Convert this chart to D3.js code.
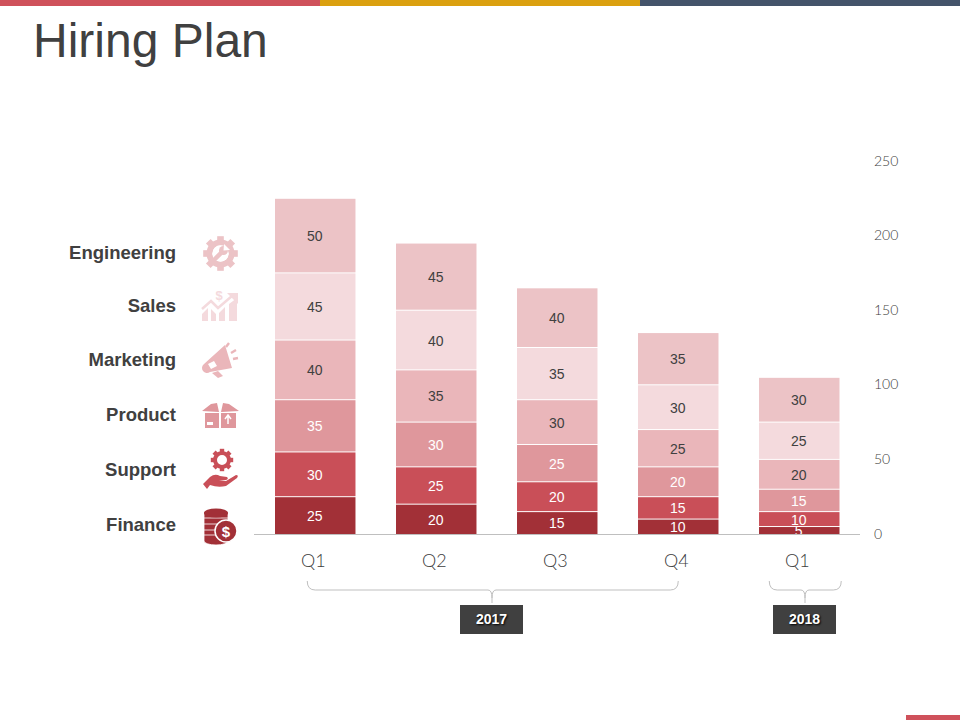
<!DOCTYPE html>
<html lang="en">
<head>
<meta charset="utf-8">
<title>Hiring Plan</title>
<script src="https://d3js.org/d3.v7.min.js"></script>
<style>
  html, body { margin: 0; padding: 0; background: #fff; }
  svg { display: block; }
  .title { font-family: "Liberation Sans", sans-serif; font-size: 48px; fill: #404040; }
  .cat { font-family: "Liberation Sans", sans-serif; font-size: 18.5px; font-weight: bold; fill: #404040; text-anchor: end; }
  .val { font-family: "Liberation Sans", sans-serif; font-size: 14px; text-anchor: middle; }
  .axis text { font-family: Lato, sans-serif; fill: #404040; font-weight: 300; }
  .year { font-family: "Liberation Sans", sans-serif; font-size: 14px; font-weight: bold; fill: #fff; text-anchor: middle; }
</style>
</head>
<body>
<svg width="960" height="720"></svg>
<script>
// data, bottom of the stack first
const quarters = ["2017 Q1", "2017 Q2", "2017 Q3", "2017 Q4", "2018 Q1"];
const quarterLabels = ["Q1", "Q2", "Q3", "Q4", "Q1"];
const categories = ["Finance", "Support", "Product", "Marketing", "Sales", "Engineering"];
const finance = [25, 20, 15, 10, 5];
const support = [30, 25, 20, 15, 10];
const product = [35, 30, 25, 20, 15];
const marketing = [40, 35, 30, 25, 20];
const sales = [45, 40, 35, 30, 25];
const engineering = [50, 45, 40, 35, 30];
const yTicks = [0, 50, 100, 150, 200, 250];

const colors = ["#A23037", "#C94F58", "#DF979C", "#EAB6BA", "#F4DADD", "#ECC3C6"];
const textColors = ["#fff", "#fff", "#fff", "#404040", "#404040", "#404040"];

const svg = d3.select("svg");

// top strip and corner
svg.append("rect").attr("width", 320).attr("height", 6).attr("fill", "#CF515B");
svg.append("rect").attr("x", 320).attr("width", 320).attr("height", 6).attr("fill", "#DBA00F");
svg.append("rect").attr("x", 640).attr("width", 320).attr("height", 6).attr("fill", "#44546A");
svg.append("rect").attr("x", 906).attr("y", 715).attr("width", 54).attr("height", 5).attr("fill", "#CF515B");

svg.append("text").attr("class", "title").attr("x", 33).attr("y", 57).text("Hiring Plan");

const x = d3.scaleBand().domain(quarters).range([254, 860.5]).paddingInner(0.335).paddingOuter(0.1736);
const y = d3.scaleLinear().domain([0, 250]).range([534, 161]);

const table = quarters.map((q, i) => ({
  quarter: q,
  Finance: finance[i], Support: support[i], Product: product[i],
  Marketing: marketing[i], Sales: sales[i], Engineering: engineering[i]
}));
const stacked = d3.stack().keys(categories)(table);

// 1px of white shows between the segments
const layers = svg.selectAll(".layer").data(stacked).enter().append("g").attr("class", "layer");
layers.selectAll("rect")
  .data(d => d)
  .enter().append("rect")
  .attr("x", d => x(d.data.quarter))
  .attr("y", d => y(d[1]) + 0.5)
  .attr("width", x.bandwidth())
  .attr("height", d => y(d[0]) - y(d[1]) - 1 + (d[0] === 0 ? 0.5 : 0))
  .attr("fill", function () { return colors[categories.indexOf(d3.select(this.parentNode).datum().key)]; });

// labels get cut off at the baseline, the 5 in the last bar shows that
svg.append("clipPath").attr("id", "plotClip").append("rect")
  .attr("x", 254).attr("y", 100).attr("width", 606).attr("height", y(0) - 100);

const labels = svg.append("g").attr("clip-path", "url(#plotClip)");
stacked.forEach((s, k) => {
  labels.selectAll(".l" + k)
    .data(s)
    .enter().append("text")
    .attr("class", "val l" + k)
    .attr("x", d => x(d.data.quarter) + x.bandwidth() / 2 - 0.5)
    .attr("y", d => (y(d[0]) + y(d[1])) / 2 + 5.5)
    .attr("fill", textColors[k])
    .text(d => d[1] - d[0]);
});

// axes
const yAxis = svg.append("g").attr("class", "axis").attr("transform", "translate(860,0)")
  .call(d3.axisRight(y).tickValues(yTicks).tickSize(0).tickPadding(14));
yAxis.select(".domain").remove();
yAxis.selectAll("text").style("font-size", "14px").attr("dy", "0.29em");

const xAxis = svg.append("g").attr("class", "axis").attr("transform", "translate(0," + y(0) + ")")
  .call(d3.axisBottom(x).tickSize(0).tickPadding(20).tickFormat((d, i) => quarterLabels[i]));
xAxis.select(".domain").attr("stroke", "#BFBFBF").attr("d", "M254,0.5H860");
xAxis.selectAll("text").style("font-size", "18px").attr("dx", -2);

// year braces
function brace(x0, x1, xm, label) {
  const top = 581, bar = 590, tip = 603;
  svg.append("path")
    .attr("fill", "none").attr("stroke", "#BFBFBF").attr("stroke-width", 1)
    .attr("d", `M${x0},${top}Q${x0},${bar} ${x0 + 8},${bar}H${xm - 4}Q${xm},${bar} ${xm},${tip - 5}V${tip}` +
               `M${xm},${tip - 5}Q${xm},${bar} ${xm + 4},${bar}H${x1 - 8}Q${x1},${bar} ${x1},${top}`);
  svg.append("rect").attr("x", xm - 32).attr("y", 605).attr("width", 63).attr("height", 29).attr("fill", "#404040");
  svg.append("text").attr("class", "year").attr("x", xm - 0.5).attr("y", 624)
    .style("text-shadow", "1px 1px 2px #000").text(label);
}
const mid = d => x(d) + x.bandwidth() / 2;
brace(mid("2017 Q1") - 8, mid("2017 Q4"), 492, "2017");
brace(mid("2018 Q1") - 30, mid("2018 Q1") + 42, 805, "2018");

// left legend: names and icons
const legendY = { Engineering: 253, Sales: 306, Marketing: 360, Product: 415, Support: 470, Finance: 525 };
categories.forEach(c => {
  svg.append("text").attr("class", "cat").attr("x", 176).attr("y", legendY[c] + 6).text(c);
});

function icon(name) {
  const k = categories.indexOf(name);
  return svg.append("g")
    .attr("transform", `translate(220,${legendY[name]})`)
    .attr("fill", colors[k]);
}

function gear(g, cx, cy, r, w, teeth, color) {
  g.append("circle").attr("cx", cx).attr("cy", cy).attr("r", r)
    .attr("fill", "none").attr("stroke", color).attr("stroke-width", w);
  d3.range(teeth).forEach(i => {
    g.append("rect").attr("x", cx - w * 0.55).attr("y", cy - r - w * 1.05)
      .attr("width", w * 1.1).attr("height", w)
      .attr("fill", color)
      .attr("transform", `rotate(${i * 360 / teeth},${cx},${cy})`);
  });
}

// engineering: gear and wrench
const eng = icon("Engineering");
gear(eng, 0.5, 0.5, 11, 6, 8, colors[5]);
eng.append("circle").attr("cx", 0.5).attr("cy", 0.5).attr("r", 8.2).attr("fill", "#fff");
eng.append("path").attr("d", "M-5,6L3,-2").attr("stroke", colors[5]).attr("stroke-width", 4.5).attr("stroke-linecap", "round");
eng.append("circle").attr("cx", 3.5).attr("cy", -2.5).attr("r", 4.5);
eng.append("path").attr("d", "M3.5,-2.5L4,-9L10,-3Z").attr("fill", "#fff");

// sales: bars, rising arrow, dollar
const sal = icon("Sales");
sal.append("path").attr("d", "M-18,15V8L-12,2V15ZM-9,15V3L-4,8V15ZM-1,15V7L5,1V15ZM9,15V-2L17,-8V15Z");
sal.append("path").attr("d", "M-18,3L-9,-5L-2,2L12,-10").attr("fill", "none").attr("stroke", colors[4]).attr("stroke-width", 2.5);
sal.append("path").attr("d", "M7,-13H18V-2Z");
sal.append("text").attr("x", -1).attr("y", -6).attr("text-anchor", "middle")
  .style("font", "bold 13px 'Liberation Sans'").text("$");

// marketing: megaphone
const mkt = icon("Marketing");
mkt.append("path").attr("d", "M-16,4L5,-15L12,8L-10,12A5,5 0 0 1 -16,4Z");
mkt.append("path").attr("d", "M-12,4L-6,1L-3,6L-9,9Z").attr("fill", "#fff");
mkt.append("path").attr("d", "M-8,13L-2,11L3,16L-2,18Z");
mkt.append("path").attr("d", "M6,-13L9,-17M11,-7L16,-10M13,-1L18,-2").attr("stroke", colors[3]).attr("stroke-width", 2.4).attr("fill", "none");

// product: open box
const prd = icon("Product");
prd.append("path").attr("d", "M-18,-4L-9,-11L-3,-12L-1,-3ZM1,-3L3,-12L9,-11L19,-4Z");
prd.append("path").attr("d", "M-15,-2H-1V13H-15ZM1,-2H16V13H1Z");
prd.append("path").attr("d", "M8,9V1M5,4L8,0L11,4").attr("stroke", "#fff").attr("stroke-width", 1.5).attr("fill", "none");
prd.append("rect").attr("x", -13).attr("y", 7).attr("width", 6).attr("height", 3).attr("fill", "#fff");

// support: hand under a gear
const sup = icon("Support");
gear(sup, 2, -10, 7, 4, 8, colors[1]);
sup.append("path").attr("d", "M-17,14L-10,7Q-5,3 0,6L7,7Q9,9 6,10L-1,10L6,11L16,5Q19,5 17,8L6,16Q-2,18 -10,15L-13,19Z");

// finance: coins with a dollar badge
const fin = icon("Finance");
[-10, -4, 2, 8, 13].forEach(cy => {
  fin.append("path").attr("d", `M-16,${cy - 3}V${cy + 3}A12,4 0 0 0 8,${cy + 3}V${cy - 3}Z`).attr("stroke", "#fff").attr("stroke-width", 0.8);
});
fin.append("ellipse").attr("cx", -4).attr("cy", -12).attr("rx", 12).attr("ry", 4.5);
fin.append("circle").attr("cx", 6).attr("cy", 6).attr("r", 11).attr("stroke", "#fff").attr("stroke-width", 1.5);
fin.append("text").attr("x", 6).attr("y", 11.5).attr("text-anchor", "middle").attr("fill", "#fff")
  .style("font", "bold 15px 'Liberation Sans'").text("$");
</script>
</body>
</html>
